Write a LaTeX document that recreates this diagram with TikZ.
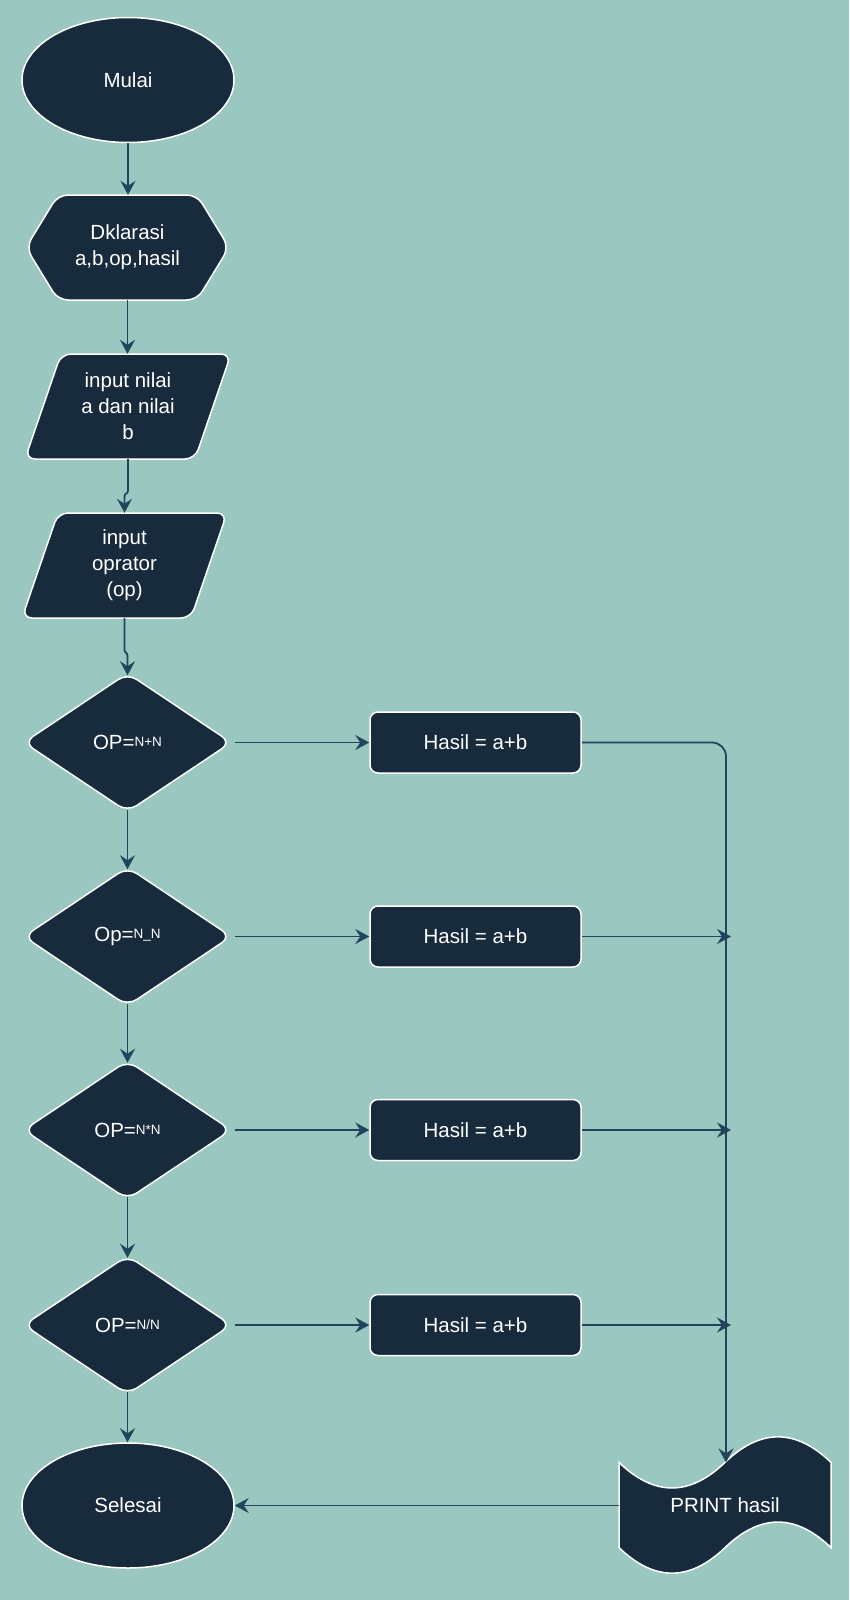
\documentclass[tikz,border=0pt]{standalone}
\usepackage{fontspec}
\setmainfont{Liberation Sans}
\usetikzlibrary{shapes.geometric,arrows.meta,calc}
\definecolor{bgc}{HTML}{9AC7BF}
\definecolor{nodec}{HTML}{182B3D}
\definecolor{arrc}{HTML}{23445D}
\newcommand\opsmall[1]{\raisebox{3pt}{\fontsize{13.5}{13.5}\selectfont #1}}
\begin{document}
\begin{tikzpicture}[x=1pt,y=-1pt,
  shapebase/.style={fill=nodec, draw=white, line width=1.5pt, text=white,
    font=\fontsize{20.5}{26}\selectfont, align=center},
  term/.style={shapebase, ellipse, minimum width=212pt, minimum height=125pt, inner sep=0pt},
  decision/.style={shapebase, diamond, minimum width=208pt, minimum height=139pt,
    inner sep=0pt, rounded corners=11pt},
  procbox/.style={shapebase, rectangle, rounded corners=8pt, minimum width=211pt, minimum height=61pt},
  anchorbox/.style={rectangle, inner sep=0pt, text=white, font=\fontsize{20.5}{26}\selectfont, align=center},
  outline/.style={fill=nodec, draw=white, line width=1.5pt, rounded corners=10pt},
  arr/.style={draw=arrc, line width=1.8pt, -{Stealth[length=14pt,width=15pt,inset=5pt]}}]
\fill[bgc] (0,0) rectangle (849,1600);
\useasboundingbox (0,0) rectangle (849,1600);

% start / end
\node[term] (mulai) at (128,80) {Mulai};
\node[term] (selesai) at (128,1505.5) {Selesai};

% declaration hexagon
\draw[outline] (26,247.5) -- (58,195) -- (197,195) -- (229,247.5) -- (197,300) -- (58,300) -- cycle;
\node[anchorbox, minimum width=203pt, minimum height=105pt] (dek) at (127.5,247.5) {Dklarasi\\a,b,op,hasil};

% input parallelograms
\draw[outline] (61,354) -- (231,354) -- (195,459) -- (25,459) -- cycle;
\node[anchorbox, minimum width=170pt, minimum height=105pt] (p1) at (128,406.5) {input nilai\\a dan nilai\\b};
\draw[outline] (58,513) -- (227,513) -- (191,618) -- (22,618) -- cycle;
\node[anchorbox, minimum width=170pt, minimum height=105pt] (p2) at (124.5,565.5) {input\\oprator\\(op)};

% decisions
\node[decision] (d1) at (127.5,742.5) {OP=\opsmall{N+N}};
\node[decision] (d2) at (127.5,936.5) {Op=\opsmall{N\_N}};
\node[decision] (d3) at (127.5,1130) {OP=\opsmall{N*N}};
\node[decision] (d4) at (127.5,1325) {OP=\opsmall{N/N}};

% process boxes
\node[procbox] (b1) at (475.5,742.5) {Hasil = a+b};
\node[procbox] (b2) at (475.5,936.5) {Hasil = a+b};
\node[procbox] (b3) at (475.5,1130) {Hasil = a+b};
\node[procbox] (b4) at (475.5,1325) {Hasil = a+b};

% print (tape shape)
\draw[fill=nodec, draw=white, line width=1.5pt]
  (619,1462.4) .. controls (654.33,1496.47) and (689.67,1496.47) .. (725,1462.4)
  .. controls (760.33,1428.33) and (795.67,1428.33) .. (831,1462.4)
  -- (831,1547.6)
  .. controls (795.67,1513.53) and (760.33,1513.53) .. (725,1547.6)
  .. controls (689.67,1581.67) and (654.33,1581.67) .. (619,1547.6) -- cycle;
\node[anchorbox, minimum width=212pt, minimum height=142pt] (prt) at (725,1505.5) {PRINT hasil};

% connectors
\coordinate (pin) at (726,1462.4);
\coordinate (j2) at (731,936.5);
\coordinate (j3) at (731,1130);
\coordinate (j4) at (731,1325);

\draw[arr] (mulai.south) -- (mulai.south |- dek.north);
\draw[arr] (dek.south) -- (dek.south |- p1.north);
\draw[arr] (p1.south) -- ($(p1.south)+(0,30)$)
  .. controls ($(p1.south)+(0,37)$) and ($(p2.north)+(0,-22)$) .. ($(p2.north)+(0,-15)$)
  -- (p2.north);
\draw[arr, shorten >=-3pt] (p2.south) -- ($(p2.south)+(0,30)$)
  .. controls ($(p2.south)+(0,37)$) and ($(d1.north)+(0,-22)$) .. ($(d1.north)+(0,-15)$)
  -- (d1.north);
\draw[arr, shorten >=-3pt, shorten <=-3pt] (d1.south) -- (d2.north);
\draw[arr, shorten >=-3pt, shorten <=-3pt] (d2.south) -- (d3.north);
\draw[arr, shorten >=-3pt, shorten <=-3pt] (d3.south) -- (d4.north);
\draw[arr, shorten <=-3pt] (d4.south) -- (d4.south |- selesai.north);

\draw[arr, shorten <=3pt] (d1.east) -- (b1.west);
\draw[arr, shorten <=3pt] (d2.east) -- (b2.west);
\draw[arr, shorten <=3pt] (d3.east) -- (b3.west);
\draw[arr, shorten <=3pt] (d4.east) -- (b4.west);

\draw[arr, rounded corners=14pt] (b1.east) -| (pin);
\draw[arr] (b2.east) -- (j2);
\draw[arr] (b3.east) -- (j3);
\draw[arr] (b4.east) -- (j4);

\draw[arr] (prt.west) -- (selesai.east);
\end{tikzpicture}
\end{document}
